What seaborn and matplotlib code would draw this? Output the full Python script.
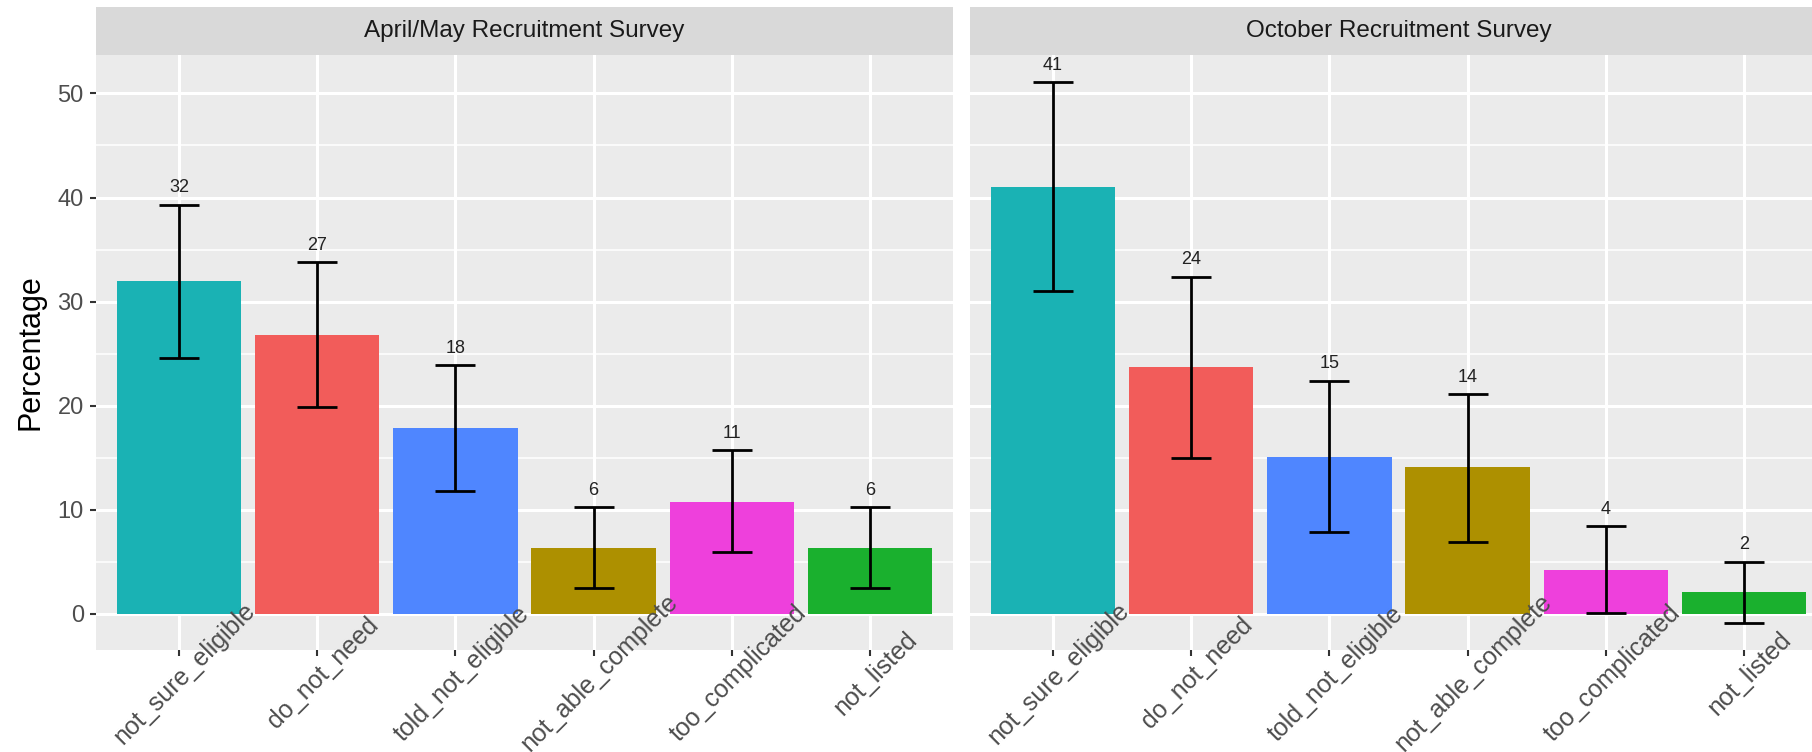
import numpy as np
import pandas as pd
import seaborn as sns
import matplotlib.pyplot as plt
import matplotlib.transforms as mtransforms
from matplotlib.patches import Rectangle

# data
reasons = ["not_sure_eligible", "do_not_need", "told_not_eligible",
           "not_able_complete", "too_complicated", "not_listed"]
surveys = ["April/May Recruitment Survey", "October Recruitment Survey"]

pct_april = [32.0, 26.8, 17.8, 6.3, 10.7, 6.3]
low_april = [24.6, 19.9, 11.8, 2.5, 5.9, 2.5]
high_april = [39.3, 33.8, 23.9, 10.2, 15.7, 10.2]

pct_oct = [41.0, 23.7, 15.1, 14.1, 4.2, 2.1]
low_oct = [31.0, 15.0, 7.8, 6.9, 0.1, -0.9]
high_oct = [51.1, 32.4, 22.4, 21.1, 8.4, 5.0]

colors = ["#1AB2B4", "#F25C5A", "#4F86FF", "#AD9000", "#EE40DC", "#1AB02E"]
palette = dict(zip(reasons, colors))

frames = []
for s, p, lo, hi in [(surveys[0], pct_april, low_april, high_april),
                     (surveys[1], pct_oct, low_oct, high_oct)]:
    frames.append(pd.DataFrame({"survey": s, "reason": reasons,
                                "pct": p, "low": lo, "high": hi}))
df = pd.concat(frames, ignore_index=True)

plt.rcParams["font.family"] = ["Liberation Sans", "DejaVu Sans"]

W, H = 1812, 752
fig = plt.figure(figsize=(W / 100, H / 100), dpi=100)

# panel geometry in pixels (right panel runs past the edge like the reference)
pan_w = 857
pan_top, pan_bot = 55, 650
strip_h = 48
lefts = [96, 970]

lo_all = df["low"].min()
hi_all = df["high"].max()
pad = 0.05 * (hi_all - lo_all)

for i, s in enumerate(surveys):
    ax = fig.add_axes([lefts[i] / W, 1 - pan_bot / H, pan_w / W, (pan_bot - pan_top) / H])
    sub = df[df["survey"] == s]
    ax.set_facecolor("#EBEBEB")
    ax.set_axisbelow(False)

    # grid drawn by hand so the axis labels stay on top of the bars
    for y in [5, 15, 25, 35, 45]:
        ax.axhline(y, color="white", linewidth=1.1, zorder=0.3)
    for y in [0, 10, 20, 30, 40, 50]:
        ax.axhline(y, color="white", linewidth=2.2, zorder=0.4)
    for x in range(len(reasons)):
        ax.axvline(x, color="white", linewidth=2.2, zorder=0.4)

    sns.barplot(data=sub, x="reason", y="pct", hue="reason", order=reasons,
                hue_order=reasons, palette=palette, dodge=False, width=0.9,
                saturation=1, legend=False, ax=ax, zorder=1)

    xpos = np.arange(len(reasons))
    ax.errorbar(xpos, sub["pct"],
                yerr=[sub["pct"] - sub["low"], sub["high"] - sub["pct"]],
                fmt="none", ecolor="black", elinewidth=2.0, capsize=14.5,
                capthick=2.0, zorder=5)

    for x, h, v in zip(xpos, sub["high"], sub["pct"]):
        ax.text(x, h + 1.2, f"{int(round(v))}", ha="center", va="baseline",
                fontsize=13, color="#222222", zorder=6)

    ax.set_xlim(-0.6, len(reasons) - 0.4)
    ax.set_ylim(lo_all - pad, hi_all + pad)
    ax.set_yticks([0, 10, 20, 30, 40, 50])
    ax.grid(False)
    for sp in ax.spines.values():
        sp.set_visible(False)

    ax.tick_params(axis="x", length=4.3, width=1.5, color="#333333",
                   pad=12.5, labelsize=18, labelcolor="#4D4D4D")
    ax.tick_params(axis="y", length=4.3, width=1.5,
                   color="#333333", pad=4.5, labelsize=17, labelcolor="#4D4D4D")
    shift = mtransforms.ScaledTranslation(6 / 100, 0, fig.dpi_scale_trans)
    for lab in ax.get_xticklabels():
        lab.set_rotation(45)
        lab.set_ha("center")
        lab.set_va("center")
        lab.set_rotation_mode("anchor")
        lab.set_transform(lab.get_transform() + shift)
    ax.set_xlabel("")

    if i == 0:
        ax.set_ylabel("Percentage", fontsize=22, color="black", labelpad=9)
    else:
        ax.set_ylabel("")
        ax.tick_params(axis="y", length=0, labelleft=False)

    # facet strip
    sh = strip_h / (pan_bot - pan_top)
    ax.add_patch(Rectangle((0, 1), 1, sh, transform=ax.transAxes,
                           facecolor="#D9D9D9", edgecolor="none", clip_on=False))
    ax.text(0.5, 1 + sh / 2, s, transform=ax.transAxes, ha="center",
            va="center", fontsize=17.5, color="#1A1A1A")

fig.savefig("out.png", dpi=100, facecolor="white")
